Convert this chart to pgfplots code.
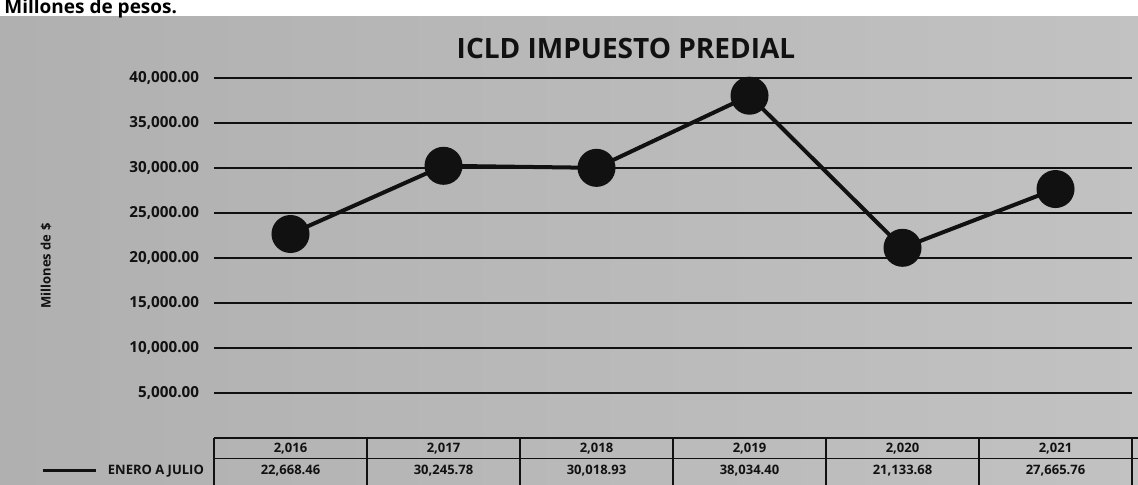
\documentclass[border=0pt]{standalone}
\usepackage{fontspec}
\setmainfont{Open Sans}
\usepackage{pgfplots}
\pgfplotsset{compat=1.18}
\definecolor{ink}{HTML}{111111}
\newcommand{\tb}{\bfseries\fontsize{6.5}{7}\selectfont}
\newcommand{\tk}{\bfseries\fontsize{7.6}{8}\selectfont}
\begin{document}
\begin{tikzpicture}
\clip (0,0) rectangle (569pt,-242pt);
% scanned page background
\fill[white] (0,0) rectangle (569pt,-242pt);
\shade[left color=gray!62, middle color=gray!22, right color=gray!48] (0,-8pt) rectangle (569pt,-242pt);
\node[font=\bfseries\fontsize{9.5}{10}\selectfont, anchor=base west, inner sep=0pt] at (2pt,-6.6pt) {Millones de pesos.};
\node[font=\bfseries\fontsize{14}{16}\selectfont, text=ink] at (313pt,-24pt) {ICLD IMPUESTO PREDIAL};
\node[font=\tb, rotate=90, text=ink] at (23pt,-133pt) {Millones de \$};
\begin{axis}[
  at={(107pt,-219pt)}, anchor=south west,
  scale only axis, width=459pt, height=180pt,
  xmin=0.5, xmax=6.5, ymin=0, ymax=40000,
  axis line style={draw=none}, tick style={draw=none}, clip=false,
  ytick={5000,10000,...,40000}, scaled y ticks=false,
  xtick=\empty,
  ymajorgrids, grid style={ink, line width=0.9pt},
  yticklabel style={font=\tk, text=ink, xshift=-4pt},
  /pgf/number format/.cd, fixed, fixed zerofill, precision=2, 1000 sep={,}, assume math mode=true,
]
\addplot[ink, line width=2pt, mark=*, mark size=8.5pt, mark options={fill=ink}]
  coordinates {(1,22668.46) (2,30245.78) (3,30018.93) (4,38034.40) (5,21133.68) (6,27665.76)};
% data table below the plot
\draw[ink, line width=1.4pt] (axis cs:0.5,0) -- (axis cs:6.55,0);
\draw[ink, line width=0.6pt] (axis cs:0.5,-2300) -- (axis cs:6.55,-2300);
\draw[ink, line width=0.6pt] (axis cs:0.5,0) -- (axis cs:0.5,-5200);
\draw[ink, line width=0.6pt] (axis cs:1.5,0) -- (axis cs:1.5,-5200);
\draw[ink, line width=0.6pt] (axis cs:2.5,0) -- (axis cs:2.5,-5200);
\draw[ink, line width=0.6pt] (axis cs:3.5,0) -- (axis cs:3.5,-5200);
\draw[ink, line width=0.6pt] (axis cs:4.5,0) -- (axis cs:4.5,-5200);
\draw[ink, line width=0.6pt] (axis cs:5.5,0) -- (axis cs:5.5,-5200);
\draw[ink, line width=0.6pt] (axis cs:6.5,0) -- (axis cs:6.5,-5200);
\node[font=\tb, text=ink] at (axis cs:1,-1150) {2,016};
\node[font=\tb, text=ink] at (axis cs:2,-1150) {2,017};
\node[font=\tb, text=ink] at (axis cs:3,-1150) {2,018};
\node[font=\tb, text=ink] at (axis cs:4,-1150) {2,019};
\node[font=\tb, text=ink] at (axis cs:5,-1150) {2,020};
\node[font=\tb, text=ink] at (axis cs:6,-1150) {2,021};
\node[font=\tb, text=ink] at (axis cs:1,-3650) {22,668.46};
\node[font=\tb, text=ink] at (axis cs:2,-3650) {30,245.78};
\node[font=\tb, text=ink] at (axis cs:3,-3650) {30,018.93};
\node[font=\tb, text=ink] at (axis cs:4,-3650) {38,034.40};
\node[font=\tb, text=ink] at (axis cs:5,-3650) {21,133.68};
\node[font=\tb, text=ink] at (axis cs:6,-3650) {27,665.76};
\node[font=\tb, text=ink, anchor=east] at (axis cs:0.48,-3650) {ENERO A JULIO};
\draw[ink, line width=1.6pt] (axis cs:-0.62,-3650) -- (axis cs:-0.27,-3650);
\end{axis}
\end{tikzpicture}
\end{document}
